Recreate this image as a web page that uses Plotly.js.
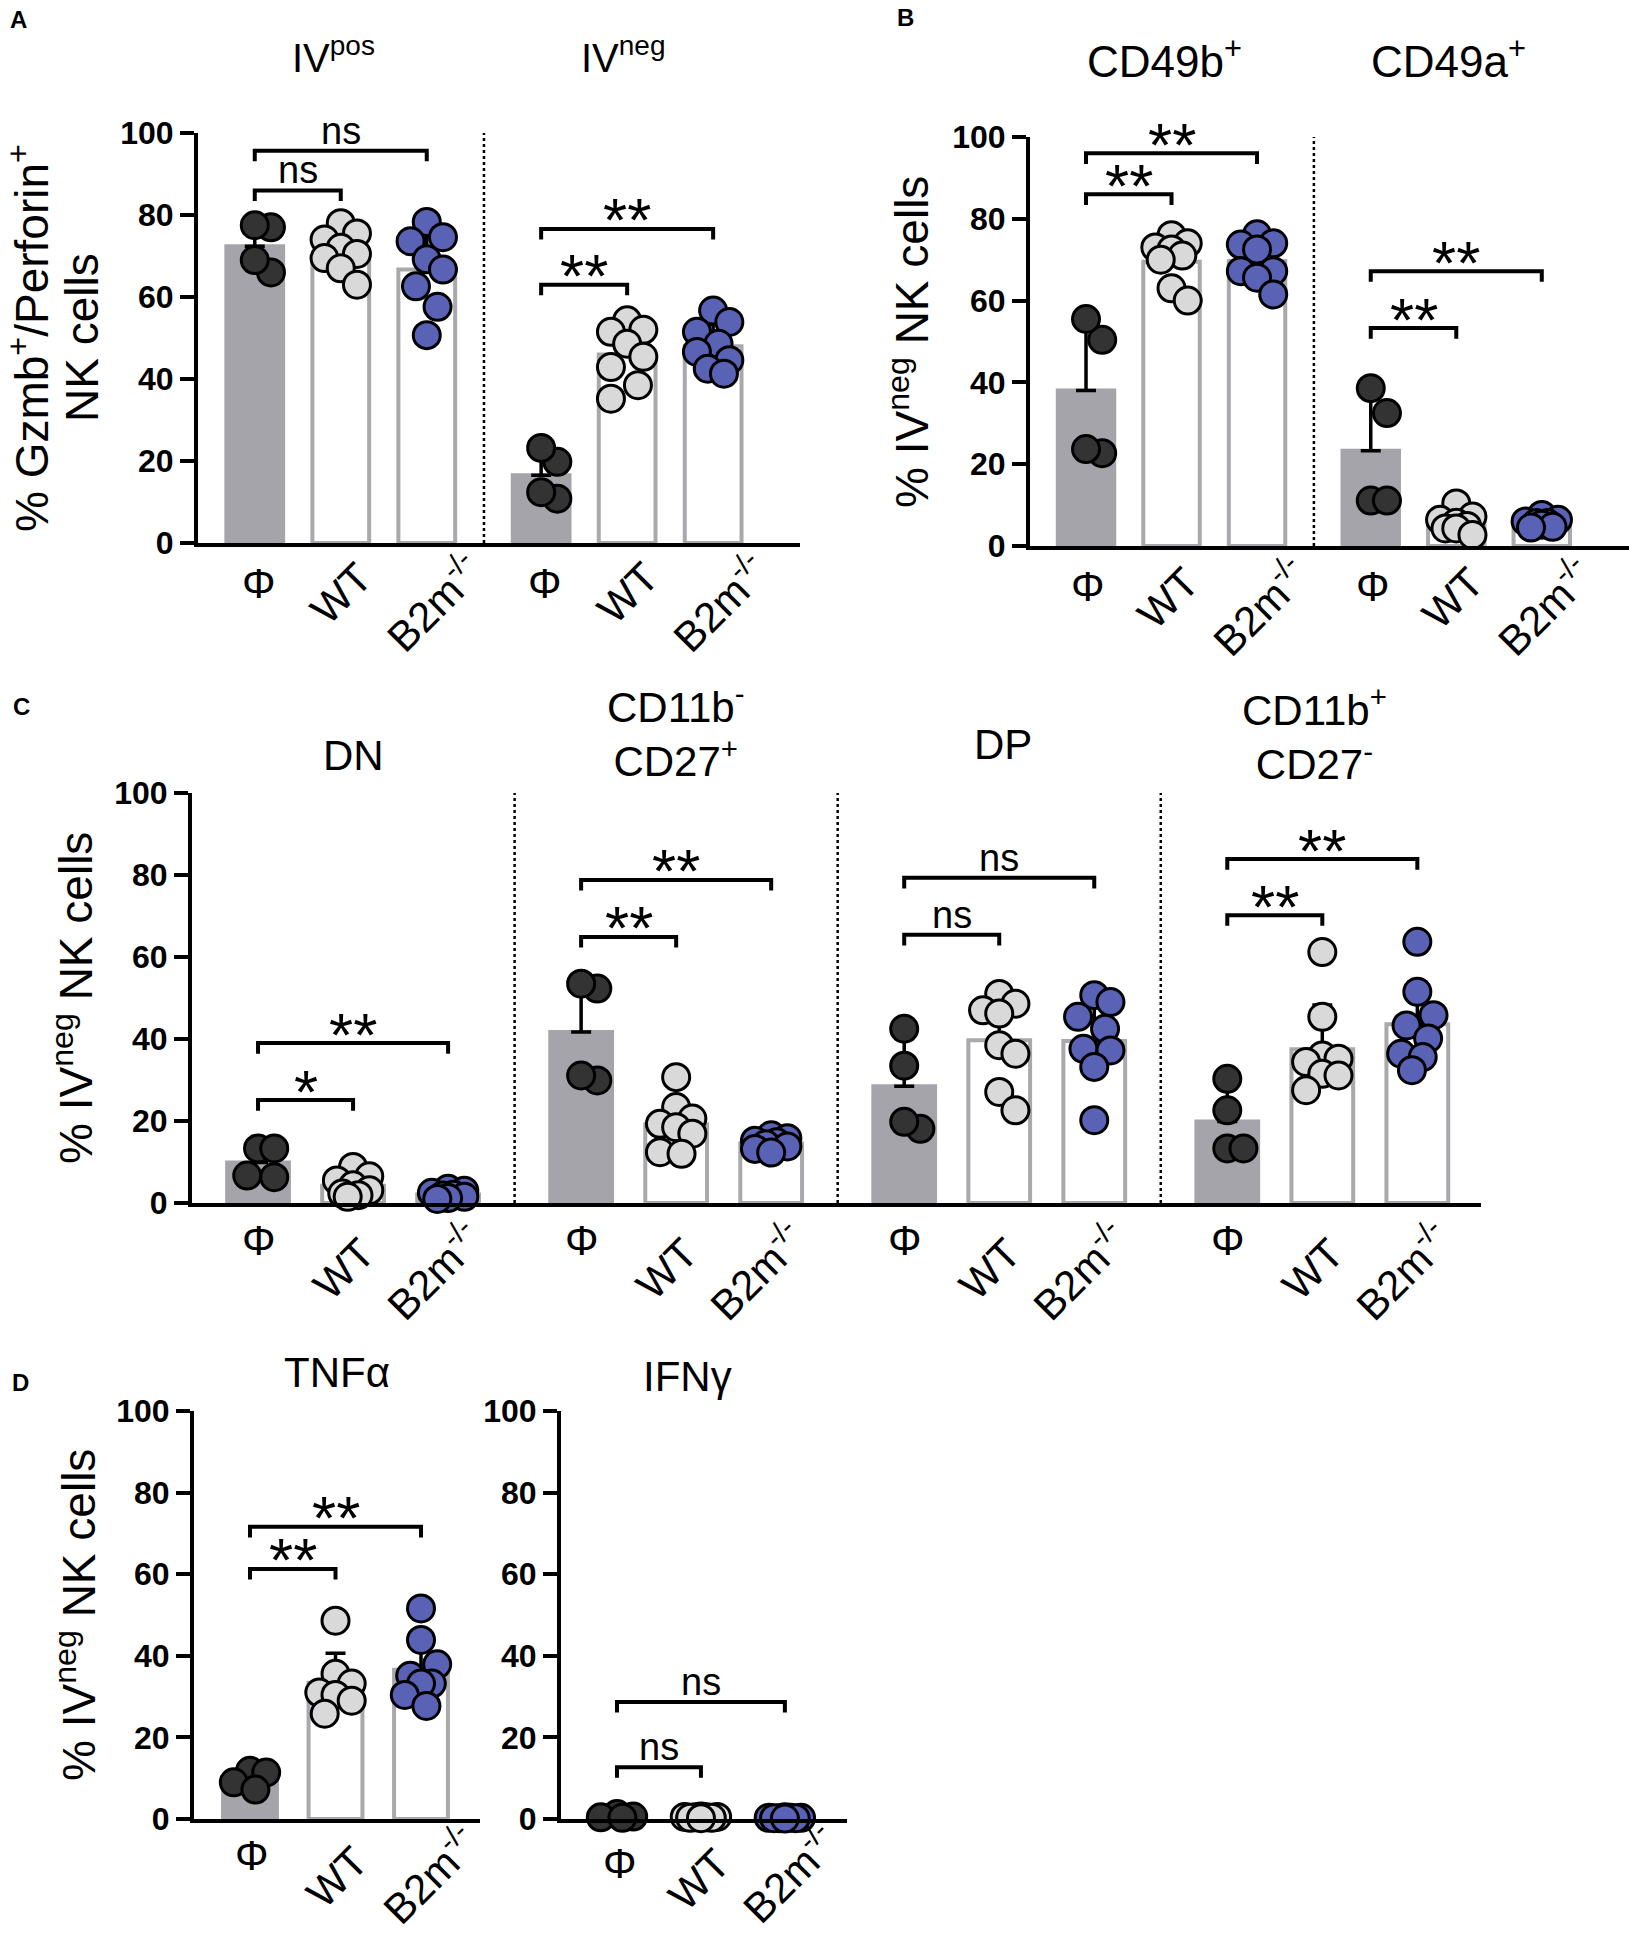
<!DOCTYPE html>
<html><head><meta charset="utf-8">
<script src="https://cdn.plot.ly/plotly-3.0.1.min.js"></script>
<style>html,body{margin:0;padding:0;background:#fff}</style>
</head><body><div id="chart" style="width:1629px;height:1935px"></div>
<script>
// ---------------- DATA ----------------
const groupLabels = ['Φ', 'WT', 'B2m<sup>-/-</sup>'];

// Panel A : % Gzmb+/Perforin+ NK cells
const A_titles = ['IV<sup>pos</sup>', 'IV<sup>neg</sup>'];
const A_pos_phi = [77, 77.5, 66, 69];
const A_pos_wt  = [78, 75.5, 74, 72, 70.5, 69.5, 67, 63];
const A_pos_b2m = [78.3, 74.6, 73.6, 69.2, 66.7, 62.6, 57.6, 50.7];
const A_pos_bar = [72.4, 70, 66.7];
const A_pos_sd  = [5.2, 4.8, 9.1];
const A_neg_phi = [19.8, 23.2, 10.8, 12.4];
const A_neg_wt  = [54.3, 52, 51.5, 48.6, 45.4, 42.9, 38.5, 35.2];
const A_neg_b2m = [56.7, 53.9, 51.5, 48.6, 46.6, 44.6, 42.5, 41.3];
const A_neg_bar = [16.5, 46, 48];
const A_neg_sd  = [6.3, 6.4, 5.3];
const A_pos_sig = [[0, 1, 86, 'ns'], [0, 2, 95.7, 'ns']];
const A_neg_sig = [[0, 1, 63, '**'], [0, 2, 76.6, '**']];

// Panel B : % IVneg NK cells
const B_titles = ['CD49b<sup>+</sup>', 'CD49a<sup>+</sup>'];
const B_b_phi = [50.4, 55.5, 22.7, 23.7];
const B_b_wt  = [76, 74, 73, 72.5, 71, 70, 63, 60];
const B_b_b2m = [76.2, 74, 73.7, 72.5, 67.2, 67.2, 65.6, 61.5];
const B_b_bar = [38, 69.5, 69.7];
const B_b_sd  = [18, 5.6, 4.8];
const B_a_phi = [38.6, 32.5, 11.1, 11.1];
const B_a_wt  = [10.4, 7.2, 6.4, 5.7, 4.9, 4.3, 4.3, 2.7];
const B_a_b2m = [7.6, 6.4, 6.0, 5.6, 5.6, 5.2, 4.7, 4.5];
const B_a_bar = [23.3, 5.7, 5.7];
const B_a_sd  = [14.5, 2.3, 1.1];
const B_b_sig = [[0, 1, 86, '**'], [0, 2, 96, '**']];
const B_a_sig = [[0, 1, 53.3, '**'], [0, 2, 67.2, '**']];

// Panel C : % IVneg NK cells
const C_titles = ['DN', 'CD11b<sup>-</sup><br>CD27<sup>+</sup>', 'DP', 'CD11b<sup>+</sup><br>CD27<sup>-</sup>'];
const C_dn_phi = [13.3, 13.3, 6.3, 6.7];
const C_dn_wt  = [8.8, 6.5, 5.5, 4.3, 3.1, 2.3, 1.9, 1.5];
const C_dn_b2m = [3.5, 3, 2.5, 2, 1.8, 1.5, 1.2, 1];
const C_dn_bar = [9.9, 4.2, 2.1];
const C_dn_sd  = [4, 2.5, 0.9];
const C_m_phi = [52.3, 53.5, 29.9, 31.1];
const C_m_wt  = [30.7, 23.4, 20.6, 19.3, 18.5, 16.9, 12.4, 12];
const C_m_b2m = [16.5, 15.8, 15.2, 14.8, 14.3, 13.8, 13.2, 12.3];
const C_m_bar = [41.7, 19.2, 14.5];
const C_m_sd  = [13, 6, 1.4];
const C_dp_phi = [42.5, 33.5, 18.1, 19.8];
const C_dp_wt  = [51, 48.6, 47, 46.2, 38.5, 36.4, 27.1, 22.6];
const C_dp_b2m = [50.7, 49, 45.4, 42.5, 37.6, 37.2, 33.2, 20.2];
const C_dp_bar = [28.5, 39.7, 39.5];
const C_dp_sd  = [11.6, 10.2, 9.6];
const C_p_phi = [30.3, 22.6, 13.3, 13.3];
const C_p_wt  = [61.2, 45.4, 36, 35.2, 34.4, 31.5, 31.1, 27.5];
const C_p_b2m = [63.7, 51.5, 45.8, 43.3, 40.1, 36.4, 35.6, 32.4];
const C_p_bar = [19.9, 37.5, 43.6];
const C_p_sd  = [8, 10.8, 10.3];
const C_dn_sig = [[0, 1, 25.1, '*'], [0, 2, 39, '**']];
const C_m_sig  = [[0, 1, 64.9, '**'], [0, 2, 78.8, '**']];
const C_dp_sig = [[0, 1, 65.4, 'ns'], [0, 2, 79.3, 'ns']];
const C_p_sig  = [[0, 1, 70.2, '**'], [0, 2, 83.9, '**']];

// Panel D : % IVneg NK cells
const D_titles = ['TNFα', 'IFNγ'];
const D_tnf_phi = [11.8, 11.4, 9, 7.2];
const D_tnf_wt  = [48.6, 35.6, 33.2, 31, 30.4, 29, 25.8];
const D_tnf_b2m = [51.6, 43.9, 37.9, 35.1, 33.2, 33.2, 30.4, 27.7];
const D_tnf_bar = [9.9, 33.4, 36.6];
const D_tnf_sd  = [2.1, 7.2, 7.6];
const D_ifn_phi = [1.2, 0.6, 0.4, 0.3];
const D_ifn_wt  = [0.6, 0.5, 0.5, 0.4, 0.4, 0.3, 0.3, 0.2];
const D_ifn_b2m = [0.4, 0.3, 0.3, 0.3, 0.2, 0.2, 0.2, 0.1];
const D_ifn_bar = [0.6, 0.4, 0.25];
const D_ifn_sd  = [0.4, 0.15, 0.1];
const D_tnf_sig = [[0, 1, 61.3, '**'], [0, 2, 71.6, '**']];
const D_ifn_sig = [[0, 1, 12.7, 'ns'], [0, 2, 28.7, 'ns']];

const yTickVals = [0, 20, 40, 60, 80, 100];
const yTitleText = '% IV<sup>neg</sup> NK cells';

// ---------------- LAYOUT / STYLE ----------------
const W = 1629, H = 1935;
const FONT = '"Liberation Sans", Arial, Helvetica, sans-serif';
const COL_PHI_BAR = '#a4a4aa', COL_BAR_EDGE = '#a9a9ad';
const COL_PT = ['#333333', '#d9d9d9', '#5a62b5'];
const MS = 27;

// lab: pixel shifts [xshift, yshift] of the three category labels
const panels = [
  {left: 198, right: 800, top: 133, bottom: 543, xr: [-0.66, 6.34], stride: 3.33, bw: 0.66,
   lab: [[4, -40], [0, -50], [6, -59]],
   titleSize: 40, titlePos: [[333, 55], [623, 55]], titles: A_titles,
   sets: [[A_pos_phi, A_pos_wt, A_pos_b2m, A_pos_bar, A_pos_sd, A_pos_sig],
          [A_neg_phi, A_neg_wt, A_neg_b2m, A_neg_bar, A_neg_sd, A_neg_sig]]},
  {left: 1030, right: 1629, top: 137, bottom: 546, xr: [-0.655, 6.35], stride: 3.33, bw: 0.66,
   lab: [[2, -40], [-4, -52], [2, -60]],
   titleSize: 44, titlePos: [[1164, 59], [1448, 59]], titles: B_titles,
   sets: [[B_b_phi, B_b_wt, B_b_b2m, B_b_bar, B_b_sd, B_b_sig],
          [B_a_phi, B_a_wt, B_a_b2m, B_a_bar, B_a_sd, B_a_sig]]},
  {left: 192, right: 1481, top: 793, bottom: 1203, xr: [-0.695, 12.87], stride: 3.4, bw: 0.65,
   lab: [[1, -37], [-10, -66], [-15, -67]],
   titleSize: 42, titlePos: [[353, 755], [675, 731], [1003, 744], [1314, 734]], titles: C_titles,
   sets: [[C_dn_phi, C_dn_wt, C_dn_b2m, C_dn_bar, C_dn_sd, C_dn_sig],
          [C_m_phi, C_m_wt, C_m_b2m, C_m_bar, C_m_sd, C_m_sig],
          [C_dp_phi, C_dp_wt, C_dp_b2m, C_dp_bar, C_dp_sd, C_dp_sig],
          [C_p_phi, C_p_wt, C_p_b2m, C_p_bar, C_p_sd, C_p_sig]]},
  {left: 194, right: 480, top: 1411, bottom: 1819, xr: [-0.655, 2.69], stride: 0, bw: 0.63,
   lab: [[2, -36], [1, -58], [8, -55]],
   titleSize: 42, titlePos: [[337, 1372]], titles: [D_titles[0]],
   sets: [[D_tnf_phi, D_tnf_wt, D_tnf_b2m, D_tnf_bar, D_tnf_sd, D_tnf_sig]]},
  {left: 561, right: 847, top: 1411, bottom: 1819, xr: [-0.667, 2.74], stride: 0, bw: 0.63,
   lab: [[3, -44], [-2, -60], [4, -54]],
   titleSize: 42, titlePos: [[687, 1376]], titles: [D_titles[1]],
   sets: [[D_ifn_phi, D_ifn_wt, D_ifn_b2m, D_ifn_bar, D_ifn_sd, D_ifn_sig]]}
];

// deterministic swarm layout (pixel space) so dots overlap like a scatter-dot plot
function swarm(vals, ux, uy, D) {
  const order = vals.map((v, i) => i).sort((a, b) => vals[b] - vals[a]);
  const placed = [], res = new Array(vals.length).fill(0);
  const step = D * 0.18, maxOff = D * 0.56, target = D * 0.95;
  const cands = [0];
  for (let k = 1; k * step <= maxOff + 0.01; k++) { cands.push(k * step); cands.push(-k * step); }
  for (const i of order) {
    const y = vals[i] * uy;
    let best = 0, bestD = -1;
    for (const c of cands) {
      const md = placed.length ? Math.min(...placed.map(p => Math.hypot(p[0] - c, p[1] - y))) : Infinity;
      if (md >= target) { best = c; bestD = md; break; }
      if (md > bestD + 0.5) { best = c; bestD = md; }
    }
    placed.push([best, y]);
    res[i] = best / ux;
  }
  return res;
}

const px = x => x / W, py = y => 1 - y / H;
const traces = [], shapes = [], annotations = [];
const layout = {
  width: W, height: H, margin: {l: 0, r: 0, t: 0, b: 0},
  paper_bgcolor: '#fff', plot_bgcolor: 'rgba(0,0,0,0)', showlegend: false,
  font: {family: FONT, color: '#000'}
};

panels.forEach((P, n) => {
  const sfx = n === 0 ? '' : String(n + 1);
  const xa = 'x' + sfx, ya = 'y' + sfx;
  const ux = (P.right - P.left) / (P.xr[1] - P.xr[0]);
  const uy = (P.bottom - P.top) / 100;
  layout['xaxis' + sfx] = {
    domain: [px(P.left), px(P.right)], range: P.xr, anchor: ya,
    showline: true, linecolor: '#000', linewidth: 4, ticks: '', showticklabels: false,
    showgrid: false, zeroline: false, fixedrange: true
  };
  layout['yaxis' + sfx] = {
    domain: [py(P.bottom), py(P.top)], range: [0, 100], anchor: xa,
    showline: true, linecolor: '#000', linewidth: 4, ticks: 'outside', ticklen: 14, tickwidth: 4,
    tickcolor: '#000', tickvals: yTickVals,
    tickfont: {family: FONT, size: 32, color: '#000', weight: 'bold'},
    showgrid: false, zeroline: false, fixedrange: true
  };

  const barX = [], barY = [], barSd = [], barCol = [], barLine = [];
  P.sets.forEach((S, g) => {
    const base = g * P.stride;
    if (g > 0) {
      const xm = base - (P.stride - 2) / 2;
      shapes.push({type: 'line', xref: xa, yref: ya, x0: xm, x1: xm, y0: 0, y1: 100,
        line: {color: '#000', width: 2.5, dash: 'dot'}, layer: 'below'});
    }
    for (let i = 0; i < 3; i++) {
      barX.push(base + i); barY.push(S[3][i]); barSd.push(S[4][i]);
      barCol.push(i === 0 ? COL_PHI_BAR : '#ffffff');
      barLine.push(i === 0 ? COL_PHI_BAR : COL_BAR_EDGE);
    }
    annotations.push({xref: 'paper', yref: 'paper', x: px(P.titlePos[g][0]), y: py(P.titlePos[g][1]),
      text: P.titles[g], showarrow: false, xanchor: 'center', yanchor: 'middle',
      font: {family: FONT, size: P.titleSize, color: '#000'}});
    for (let i = 0; i < 3; i++) {
      annotations.push({xref: xa, yref: ya, x: base + i, y: 0, text: groupLabels[i], showarrow: false,
        xanchor: 'center', yanchor: 'middle', textangle: i === 0 ? 0 : -45,
        xshift: P.lab[i][0], yshift: P.lab[i][1],
        font: {family: FONT, size: 42, color: '#000'}});
    }
    S[5].forEach(b => {
      const x0 = base + b[0], x1 = base + b[1], y = b[2], d = 2.6;
      shapes.push({type: 'path', xref: xa, yref: ya,
        path: `M ${x0},${y - d} L ${x0},${y} L ${x1},${y} L ${x1},${y - d}`,
        line: {color: '#000', width: 4}});
      const isStar = b[3].indexOf('*') >= 0;
      annotations.push({xref: xa, yref: ya, x: (x0 + x1) / 2, y: y, text: b[3], showarrow: false,
        xanchor: 'center', yanchor: 'middle', yshift: isStar ? 9 : 20,
        font: {family: FONT, size: isStar ? 62 : 38, color: '#000'}});
    });
  });

  traces.push({type: 'bar', x: barX, y: barY, xaxis: xa, yaxis: ya, width: P.bw,
    marker: {color: barCol, line: {color: barLine, width: 4}},
    error_y: {type: 'data', symmetric: false, array: barSd, arrayminus: barSd.map(() => 0),
      color: '#000', thickness: 3.5, width: 10},
    hoverinfo: 'skip'});

  for (let i = 0; i < 3; i++) {
    const xs = [], ys = [];
    P.sets.forEach((S, g) => {
      const vals = S[i];
      const offs = swarm(vals, ux, uy, MS + 3);
      vals.forEach((v, k) => { xs.push(g * P.stride + i + offs[k]); ys.push(v); });
    });
    traces.push({type: 'scatter', mode: 'markers', x: xs, y: ys, xaxis: xa, yaxis: ya,
      cliponaxis: false, hoverinfo: 'skip',
      marker: {color: COL_PT[i], size: MS, line: {color: '#000', width: 3}}});
  }
});

const yTitles = [
  ['% Gzmb<sup>+</sup>/Perforin<sup>+</sup>', 29, 338],
  ['NK cells', 82, 338],
  [yTitleText, 909, 342],
  [yTitleText, 73, 998],
  [yTitleText, 76, 1615]
];
yTitles.forEach(t => annotations.push({xref: 'paper', yref: 'paper', x: px(t[1]), y: py(t[2]),
  text: t[0], showarrow: false, textangle: -90, xanchor: 'center', yanchor: 'middle',
  font: {family: FONT, size: 46, color: '#000'}}));

[['A', 18, 20], ['B', 905, 17], ['C', 21, 706], ['D', 20, 1382]].forEach(t =>
  annotations.push({xref: 'paper', yref: 'paper', x: px(t[1]), y: py(t[2]), text: t[0],
    showarrow: false, xanchor: 'center', yanchor: 'middle',
    font: {family: FONT, size: 24, color: '#000', weight: 'bold'}}));

layout.shapes = shapes;
layout.annotations = annotations;
Plotly.newPlot('chart', traces, layout, {staticPlot: true, displayModeBar: false});
</script></body></html>
